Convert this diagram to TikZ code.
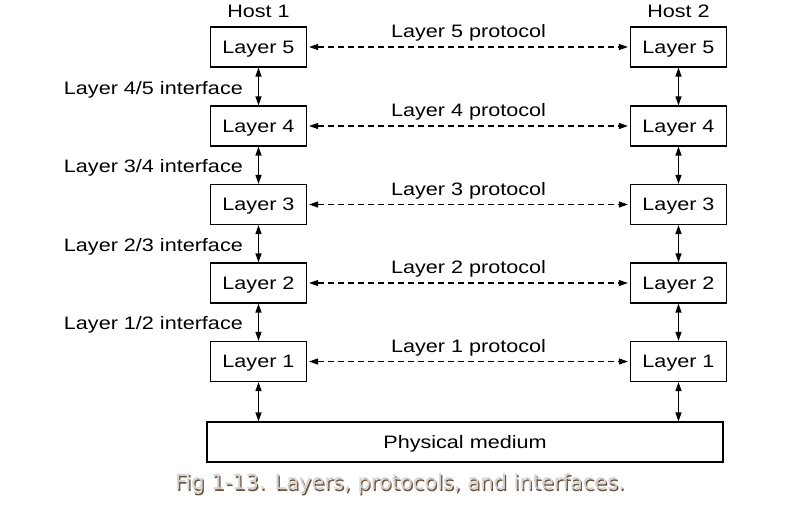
\documentclass[tikz,border=0pt]{standalone}
\usepackage{fontspec}
\setmainfont{Liberation Sans}
\newfontfamily\capfont{DejaVu Sans}
\usetikzlibrary{positioning,arrows.meta}
\definecolor{capfill}{HTML}{D2D2D2}
\definecolor{capshade}{HTML}{6E5234}
\newcommand{\wtext}[1]{\scalebox{1.2}[1]{#1}}
\tikzset{
  layerbox/.style={draw,line width=1.2pt,minimum width=96pt,minimum height=40pt,inner sep=0pt,text depth=0pt},
  lbl/.style={inner sep=0pt,text depth=0pt},
  proto/.style={<->,line width=1.1pt,dash pattern=on 6pt off 4pt,shorten <=2pt,shorten >=2pt},
  iface/.style={<->,line width=1.3pt},
  captext/.style={lbl,font=\capfont\fontsize{21}{24}\selectfont},
}
\begin{document}
\begin{tikzpicture}[x=1pt,y=-1pt,>={Triangle[length=9pt,width=6pt]},font=\fontsize{18}{20}\selectfont]
  \useasboundingbox[fill=white] (0,0) rectangle (800,520);
  \node[lbl] (host1) at (258.5,11) {\wtext{Host 1}};
  \node[lbl] (host2) at (678.5,11) {\wtext{Host 2}};
  % the five layers on each host
  \foreach \n/\y in {5/47,4/126,3/204.5,2/283,1/361.5} {
    \node[layerbox] (a\n) at (258.5,\y) {\wtext{Layer \n}};
    \node[layerbox] (b\n) at (678.5,\y) {\wtext{Layer \n}};
    \draw[proto] (a\n) -- (b\n) node[midway,lbl,yshift=16pt]{\wtext{Layer \n\ protocol}};
  }
  \node[layerbox,minimum width=516pt] (pm) at (465,442) {\wtext{Physical medium}};
  % interfaces between layers
  \foreach \u/\l in {5/4,4/3,3/2,2/1} {
    \draw[iface] (a\u) -- (a\l) node[midway,left=15pt,lbl,yshift=-1pt]{\wtext{Layer \l/\u\ interface}};
    \draw[iface] (b\u) -- (b\l);
  }
  \draw[iface] (a1) -- (a1.south |- pm.north);
  \draw[iface] (b1) -- (b1.south |- pm.north);
  % caption
  \node[captext,text=capshade] (capsh) at (401.2,483.2) {Fig 1-13. Layers, protocols, and interfaces.};
  \node[captext,text=capfill] (cap) at (400,482) {Fig 1-13. Layers, protocols, and interfaces.};
\end{tikzpicture}
\end{document}
